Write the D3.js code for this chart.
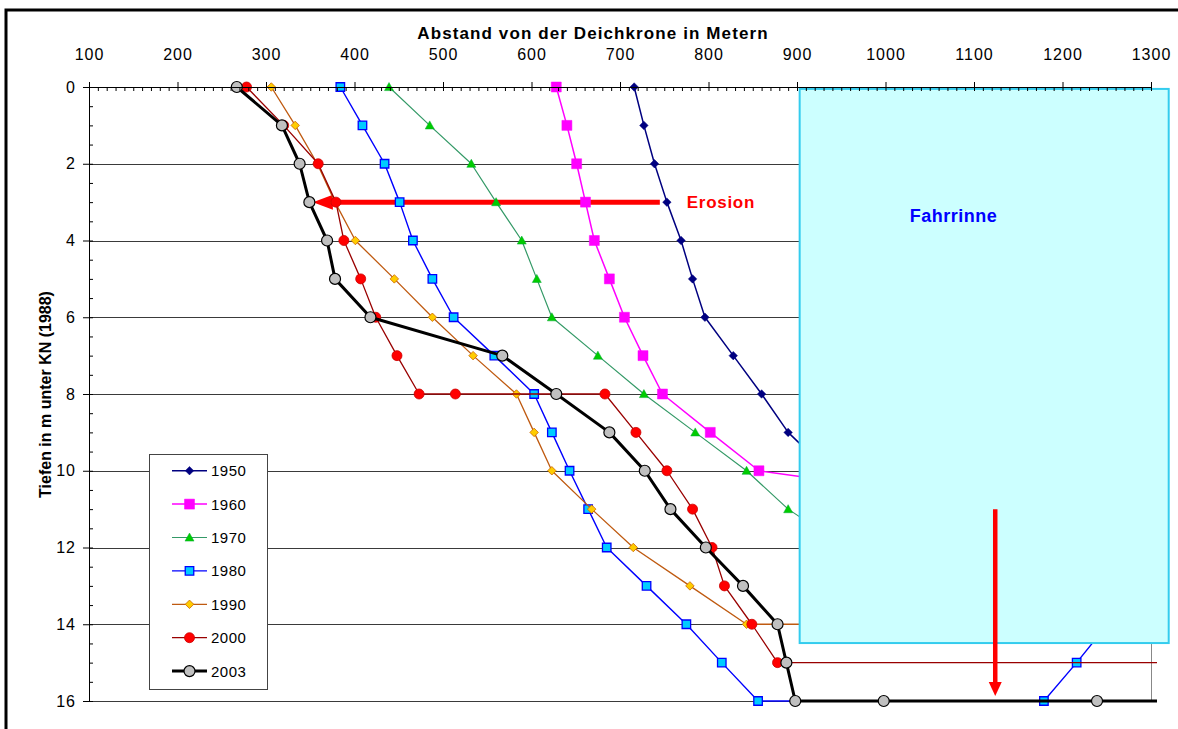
<!DOCTYPE html>
<html><head><meta charset="utf-8">
<script src="https://cdn.jsdelivr.net/npm/d3@7"></script>
<style>
html,body{margin:0;padding:0;background:#fff;}
svg{display:block;font-family:"Liberation Sans",Arial,sans-serif;}
</style></head>
<body>
<svg id="c" width="1178" height="729"></svg>
<script>
// ---- data: depth (m below KN) and distance from dike crest (m) ----
const years = ["1950","1960","1970","1980","1990","2000","2003"];
const depth_1950 = [0,1,2,3,4,5,6,7,8,9,10,11];
const dist_1950  = [716,727,739,753,769,782,796,828,860,890,935,980];
const depth_1960 = [0,1,2,3,4,5,6,7,8,9,10,11];
const dist_1960  = [628,640,651,661,671,688,705,726,748,802,857,1170];
const depth_1970 = [0,1,2,3,4,5,6,7,8,9,10,11,12];
const dist_1970  = [439,485,532,560,589,606,623,675,727,785,843,890,955];
const depth_1980 = [0,1,2,3,4,5,6,7,8,9,10,11,12,13,14,15,16,16,15,14];
const dist_1980  = [384,409,434,451,466,488,512,558,603,623,643,664,685,730,775,815,856,1179,1216,1251];
const depth_1990 = [0,1,2,3,4,5,6,7,8,9,10,11,12,13,14,14];
const dist_1990  = [306,333,358,378,401,445,488,534,583,603,623,668,715,779,843,1350];
const depth_2000 = [0,1,2,3,4,5,6,7,8,8,8,9,10,11,12,13,14,15,15];
const dist_2000  = [278,320,359,379,388,407,424,448,473,514,683,718,753,782,804,818,849,878,1350];
const depth_2003 = [0,1,2,3,4,5,6,7,8,9,10,11,12,13,14,15,16,16,16,16];
const dist_2003  = [267,318,338,349,369,378,418,567,628,688,728,757,797,839,878,888,898,998,1239,1350];

const xTicks = [100,200,300,400,500,600,700,800,900,1000,1100,1200,1300];
const yTicks = [0,2,4,6,8,10,12,14,16];

// annotations (data units)
const channelX = [903, 1320];      // Fahrrinne box, distance
const channelDepth = [0.05, 14.49];
const erosionArrow = {from: 745, to: 353, depth: 3};
const sinkArrow = {dist: 1124, from: 11.0, to: 15.87};

// ---- build ----
const seriesDepth = [depth_1950,depth_1960,depth_1970,depth_1980,depth_1990,depth_2000,depth_2003];
const seriesDist  = [dist_1950,dist_1960,dist_1970,dist_1980,dist_1990,dist_2000,dist_2003];

const styles = [
  {line:"#000080", lw:1.5, shape:"diamond", size:8.5, fill:"#000080", stroke:"#000080", sw:0.5},
  {line:"#ff00ff", lw:1.5, shape:"square",  size:10,  fill:"#ff00ff", stroke:"#ff00ff", sw:0.5},
  {line:"#339966", lw:1.2, shape:"triangle",size:9,   fill:"#00cc00", stroke:"#00aa33", sw:0.5},
  {line:"#0000ff", lw:1.4, shape:"square",  size:8.5, fill:"#00ccff", stroke:"#0000ff", sw:1.3},
  {line:"#bf5a10", lw:1.3, shape:"diamond", size:8.5, fill:"#ffcc00", stroke:"#cc6600", sw:0.8},
  {line:"#990000", lw:1.3, shape:"circle",  size:10,  fill:"#ff0000", stroke:"#cc0000", sw:0.8},
  {line:"#000000", lw:3,   shape:"circle",  size:11,  fill:"#c0c0c0", stroke:"#000000", sw:1.2}
];

const svg = d3.select("#c");
const x = d3.scaleLinear().domain([100,1300]).range([89,1151]);
const y = d3.scaleLinear().domain([0,16]).range([87,701]);

svg.append("rect").attr("width",1178).attr("height",729).attr("fill","#fff");
// outer frame
svg.append("rect").attr("x",6).attr("y",10).attr("width",1400).attr("height",900)
  .attr("fill","none").attr("stroke","#000").attr("stroke-width",3);

// gridlines
svg.append("g").selectAll("line").data(yTicks.slice(1)).join("line")
  .attr("x1",x(100)).attr("x2",x(1300))
  .attr("y1",d=>Math.round(y(d))+0.5).attr("y2",d=>Math.round(y(d))+0.5)
  .attr("stroke","#3a3a3a").attr("stroke-width",1);
// right plot border
svg.append("line").attr("x1",Math.round(x(1300))+0.5).attr("x2",Math.round(x(1300))+0.5)
  .attr("y1",y(0)).attr("y2",y(16)).attr("stroke","#888").attr("stroke-width",1);

// erosion arrow (under series)
const ey = y(erosionArrow.depth);
svg.append("line").attr("x1",x(erosionArrow.from)).attr("x2",x(erosionArrow.to)+18)
  .attr("y1",ey).attr("y2",ey).attr("stroke","#ff0000").attr("stroke-width",5);
svg.append("path").attr("fill","#ff0000")
  .attr("d",`M${x(erosionArrow.to)},${ey} L${x(erosionArrow.to)+20},${ey-7.5} L${x(erosionArrow.to)+20},${ey+7.5} Z`);
svg.append("text").attr("x",x(erosionArrow.from)+27).attr("y",ey+5.5)
  .attr("fill","#ff0000").attr("font-weight","bold").attr("font-size",17)
  .attr("letter-spacing",0.7).text("Erosion");

// clip
svg.append("defs").append("clipPath").attr("id","clip")
  .append("rect").attr("x",80).attr("y",75).attr("width",1157-80).attr("height",640);

function markerPath(shape,s){
  const h=s/2;
  if(shape==="diamond") return `M0,${-h}L${h},0L0,${h}L${-h},0Z`;
  if(shape==="square") return `M${-h},${-h}H${h}V${h}H${-h}Z`;
  if(shape==="triangle") return `M0,${-h}L${h},${h*0.8}L${-h},${h*0.8}Z`;
  return null;
}
function drawMarker(g,st,cx,cy){
  if(st.shape==="circle"){
    g.append("circle").attr("cx",cx).attr("cy",cy).attr("r",st.size/2)
      .attr("fill",st.fill).attr("stroke",st.stroke).attr("stroke-width",st.sw);
  } else {
    g.append("path").attr("transform",`translate(${cx},${cy})`).attr("d",markerPath(st.shape,st.size))
      .attr("fill",st.fill).attr("stroke",st.stroke).attr("stroke-width",st.sw);
  }
}

const plot = svg.append("g").attr("clip-path","url(#clip)");
const line = d3.line().x(d=>x(d[1])).y(d=>y(d[0]));
years.forEach((yr,i)=>{
  const pts = seriesDepth[i].map((d,j)=>[d, seriesDist[i][j]]);
  const st = styles[i];
  const g = plot.append("g");
  g.append("path").attr("d",line(pts)).attr("fill","none")
    .attr("stroke",st.line).attr("stroke-width",st.lw).attr("stroke-linejoin","round");
  pts.forEach(p=>drawMarker(g,st,x(p[1]),y(p[0])));
});

// Fahrrinne box
svg.append("rect").attr("x",x(channelX[0])).attr("y",y(channelDepth[0]))
  .attr("width",x(channelX[1])-x(channelX[0])).attr("height",y(channelDepth[1])-y(channelDepth[0]))
  .attr("fill","#ccffff").attr("stroke","#33ccee").attr("stroke-width",2);
svg.append("text").attr("x",953.5).attr("y",221.5).attr("text-anchor","middle")
  .attr("fill","#0000ff").attr("font-weight","bold").attr("font-size",18)
  .attr("letter-spacing",0.5).text("Fahrrinne");

// sink arrow
const sx = x(sinkArrow.dist);
svg.append("line").attr("x1",sx).attr("x2",sx).attr("y1",y(sinkArrow.from)).attr("y2",y(sinkArrow.to)-12)
  .attr("stroke","#ff0000").attr("stroke-width",4.5);
svg.append("path").attr("fill","#ff0000")
  .attr("d",`M${sx},${y(sinkArrow.to)} L${sx-6.5},${y(sinkArrow.to)-14} L${sx+6.5},${y(sinkArrow.to)-14} Z`);

// axes
const minorX = d3.range(100,1301,10);
const gx = svg.append("g").attr("transform",`translate(0,${y(0)})`);
gx.call(d3.axisTop(x).tickValues(xTicks).tickSizeInner(5).tickSizeOuter(0).tickPadding(22).tickFormat(d3.format("d")));
gx.append("g").call(d3.axisBottom(x).tickValues(minorX).tickSize(4).tickFormat("")).select(".domain").remove();
gx.selectAll("text").attr("font-size",16).attr("letter-spacing",1).attr("fill","#000")
  .attr("font-family","'Liberation Sans',Arial,sans-serif");
gx.selectAll("line").attr("stroke","#000");
gx.selectAll(".domain").attr("stroke","#000");

const minorY = d3.range(0,16.01,0.5);
const gy = svg.append("g").attr("transform",`translate(${x(100)},0)`);
gy.call(d3.axisLeft(y).tickValues(yTicks).tickSizeInner(6).tickSizeOuter(0).tickPadding(7).tickFormat(d3.format("d")));
gy.append("g").call(d3.axisRight(y).tickValues(minorY).tickSize(4).tickFormat("")).select(".domain").remove();
gy.selectAll("text").attr("font-size",16).attr("letter-spacing",1).attr("fill","#000")
  .attr("font-family","'Liberation Sans',Arial,sans-serif");
gy.selectAll("line").attr("stroke","#000");
gy.selectAll(".domain").attr("stroke","#000");

// titles
svg.append("text").attr("x",593).attr("y",38.5).attr("text-anchor","middle")
  .attr("font-weight","bold").attr("font-size",17).attr("letter-spacing",1.1)
  .text("Abstand von der Deichkrone in Metern");
svg.append("text").attr("transform","translate(51,394.5) rotate(-90)").attr("text-anchor","middle")
  .attr("font-weight","bold").attr("font-size",16)
  .text("Tiefen in m unter KN (1988)");

// legend
const lg = svg.append("g");
lg.append("rect").attr("x",149.5).attr("y",454.5).attr("width",118).attr("height",235)
  .attr("fill","#fff").attr("stroke","#444").attr("stroke-width",1);
years.forEach((yr,i)=>{
  const ry = 470.7 + i*33.4;
  const st = styles[i];
  lg.append("line").attr("x1",172).attr("x2",207).attr("y1",ry).attr("y2",ry)
    .attr("stroke",st.line).attr("stroke-width",st.lw);
  drawMarker(lg,st,189.5,ry);
  lg.append("text").attr("x",211).attr("y",ry+5.5).attr("font-size",15).attr("letter-spacing",0.5).text(yr);
});
</script>
</body></html>
